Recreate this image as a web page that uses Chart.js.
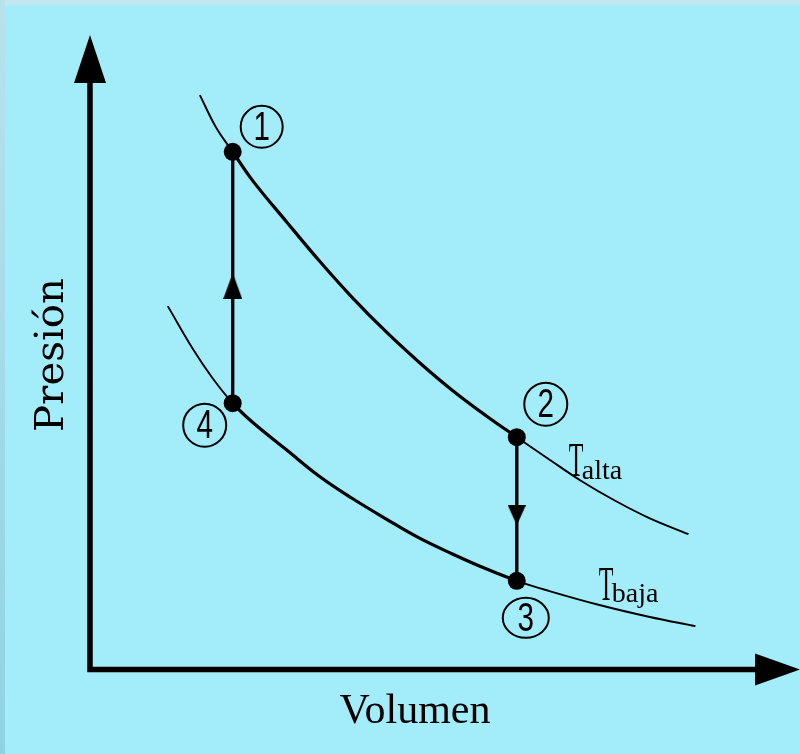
<!DOCTYPE html>
<html>
<head>
<meta charset="utf-8">
<script src="https://cdn.jsdelivr.net/npm/chart.js@4/dist/chart.umd.min.js"></script>
<style>
  html, body { margin: 0; padding: 0; background: #a3ecfa; }
  #c { display: block; }
</style>
</head>
<body>
<canvas id="c" width="800" height="754"></canvas>
<script>
// ---- Data (arbitrary units) ----
const upperV = [1.56, 1.79, 2.03, 2.31, 2.80, 3.27, 3.74, 4.23, 4.70, 5.17, 5.66, 6.10, 6.56, 7.03, 7.51, 7.99, 8.56];
const upperP = [9.11, 8.60, 8.21, 7.76, 7.10, 6.48, 5.90, 5.35, 4.87, 4.43, 4.02, 3.68, 3.33, 2.98, 2.67, 2.40, 2.14];
const lowerV = [1.10, 1.46, 1.74, 2.03, 2.31, 2.80, 3.27, 3.74, 4.23, 4.70, 5.17, 5.66, 6.10, 6.56, 7.27, 7.99, 8.66];
const lowerP = [5.76, 5.08, 4.62, 4.22, 3.92, 3.48, 3.06, 2.71, 2.38, 2.08, 1.83, 1.59, 1.40, 1.24, 1.02, 0.83, 0.68];
const cycleV = [2.03, 6.10, 6.10, 2.03];
const cycleP = [8.21, 3.68, 1.40, 4.22];
const cycleLabels = ['1', '2', '3', '4'];
const arrowV = [2.03, 6.10];
const arrowP = [6.08, 2.44];
const arrowDir = ['up', 'down'];
const curveNames = ['alta', 'baja'];
const xTitle = 'Volumen';
const yTitle = 'Presión';

const toXY = (xs, ys) => xs.map((x, i) => ({ x: x, y: ys[i] }));
const idxOf = (arr, v) => arr.indexOf(v);

// thick part of each isotherm lies between the cycle points
const upLo = idxOf(upperV, cycleV[0]), upHi = idxOf(upperV, cycleV[1]);
const loLo = idxOf(lowerV, cycleV[3]), loHi = idxOf(lowerV, cycleV[2]);

function arrowImage(dir, w, h) {
  const cv = document.createElement('canvas');
  cv.width = w; cv.height = h;
  const g = cv.getContext('2d');
  g.fillStyle = '#000';
  g.beginPath();
  if (dir === 'up') { g.moveTo(w / 2, 0); g.lineTo(w, h); g.lineTo(0, h); }
  else { g.moveTo(0, 0); g.lineTo(w, 0); g.lineTo(w / 2, h); }
  g.closePath(); g.fill();
  return cv;
}
const arrowImgs = arrowDir.map(d => d === 'up' ? arrowImage('up', 19, 26) : arrowImage('down', 18, 20));

const decor = {
  id: 'decor',
  beforeDraw(chart) {
    const ctx = chart.ctx;
    ctx.save();
    ctx.fillStyle = '#a3ecfa';
    ctx.fillRect(0, 0, 800, 754);
    ctx.fillStyle = '#c3e7ef';
    ctx.fillRect(0, 0, 800, 5);
    const lg = ctx.createLinearGradient(0, 0, 0, 754);
    lg.addColorStop(0, '#b8e2ec');
    lg.addColorStop(1, '#8fd3e2');
    ctx.fillStyle = lg;
    ctx.fillRect(0, 0, 5, 754);
    ctx.restore();
  },
  beforeDatasetsDraw(chart) {
    const ctx = chart.ctx;
    const a = chart.chartArea;
    const x0 = a.left - 1, y0 = a.bottom + 0.5;
    ctx.save();
    ctx.strokeStyle = '#000';
    ctx.fillStyle = '#000';
    ctx.lineWidth = 5.5;
    ctx.lineCap = 'square';
    ctx.beginPath();
    ctx.moveTo(x0, y0); ctx.lineTo(x0, 80);
    ctx.moveTo(x0, y0); ctx.lineTo(760, y0);
    ctx.stroke();
    // arrowheads
    ctx.beginPath();
    ctx.moveTo(x0, 35); ctx.lineTo(x0 + 16, 83); ctx.lineTo(x0 - 16, 83); ctx.closePath();
    ctx.fill();
    ctx.beginPath();
    ctx.moveTo(800, y0); ctx.lineTo(755, y0 - 16); ctx.lineTo(755, y0 + 16); ctx.closePath();
    ctx.fill();
    ctx.restore();
  },
  afterDatasetsDraw(chart) {
    const ctx = chart.ctx;
    const xs = chart.scales.x, ys = chart.scales.y;
    ctx.save();
    ctx.fillStyle = '#000';
    ctx.strokeStyle = '#000';
    // circled numbers
    const dx = [29, 29, 9, -28], dy = [-25, -33, 37, 22];
    const rx = [21, 21.5, 23, 21.5], ry = [21, 21.5, 20, 21.5];
    cycleLabels.forEach((lab, i) => {
      const px = xs.getPixelForValue(cycleV[i]) + dx[i];
      const py = ys.getPixelForValue(cycleP[i]) + dy[i];
      ctx.lineWidth = 2;
      ctx.beginPath();
      ctx.ellipse(px, py, rx[i], ry[i], 0, 0, Math.PI * 2);
      ctx.stroke();
      ctx.save();
      ctx.translate(px, py);
      ctx.scale(0.78, 1.05);
      ctx.font = '38px "Liberation Sans"';
      ctx.textAlign = 'center';
      ctx.textBaseline = 'middle';
      ctx.fillText(lab, 0, 2);
      ctx.restore();
    });
    // T labels
    const tAnchor = [[cycleV[1], cycleP[1], 52, 39], [cycleV[2], cycleP[2], 82, 19]];
    curveNames.forEach((nm, i) => {
      const bx = xs.getPixelForValue(tAnchor[i][0]) + tAnchor[i][2];
      const by = ys.getPixelForValue(tAnchor[i][1]) + tAnchor[i][3];
      ctx.save();
      ctx.translate(bx, by);
      ctx.scale(0.5, 1);
      ctx.font = '48px "Liberation Serif"';
      ctx.textAlign = 'left';
      ctx.textBaseline = 'alphabetic';
      ctx.fillText('T', 0, 0);
      ctx.restore();
      ctx.font = '28px "Liberation Serif"';
      ctx.textAlign = 'left';
      ctx.fillText(nm, bx + 13, by + (i === 0 ? 3 : 2));
    });
    // axis titles
    ctx.font = '42px "Liberation Serif"';
    ctx.textAlign = 'center';
    ctx.textBaseline = 'alphabetic';
    ctx.fillText(xTitle, 415, 723);
    ctx.save();
    ctx.translate(63, 355);
    ctx.rotate(-Math.PI / 2);
    ctx.font = '40px "DejaVu Serif"';
    const w = ctx.measureText(yTitle).width;
    ctx.scale(154 / w, 1);
    ctx.fillText(yTitle, 0, 0);
    ctx.restore();
    ctx.restore();
  }
};

const curveStyle = (lo, hi) => ({
  borderWidth: c => (c.p0DataIndex >= lo && c.p1DataIndex <= hi) ? 3.2 : 1.9
});

new Chart(document.getElementById('c'), {
  type: 'scatter',
  data: {
    datasets: [
      { label: 'estados', data: toXY(cycleV, cycleP), pointRadius: 9, pointBackgroundColor: '#000', pointBorderWidth: 0, showLine: false },
      { label: 'flechas', data: toXY(arrowV, arrowP), pointStyle: arrowImgs, pointRadius: 10, showLine: false },
      { label: '4-1', data: [{ x: cycleV[3], y: cycleP[3] }, { x: cycleV[0], y: cycleP[0] }], showLine: true, borderColor: '#000', borderWidth: 3.4, pointRadius: 0 },
      { label: '2-3', data: [{ x: cycleV[1], y: cycleP[1] }, { x: cycleV[2], y: cycleP[2] }], showLine: true, borderColor: '#000', borderWidth: 3.4, pointRadius: 0 },
      { label: 'T alta', data: toXY(upperV, upperP), showLine: true, borderColor: '#000', borderWidth: 1.9, pointRadius: 0, tension: 0.4, segment: curveStyle(upLo, upHi) },
      { label: 'T baja', data: toXY(lowerV, lowerP), showLine: true, borderColor: '#000', borderWidth: 1.9, pointRadius: 0, tension: 0.4, segment: curveStyle(loLo, loHi) }
    ]
  },
  options: {
    responsive: false,
    animation: false,
    devicePixelRatio: 1,
    layout: { padding: { left: 91, right: 9, top: 39, bottom: 85 } },
    scales: {
      x: { type: 'linear', min: 0, max: 10, display: false },
      y: { type: 'linear', min: 0, max: 10, display: false }
    },
    plugins: { legend: { display: false }, tooltip: { enabled: false } }
  },
  plugins: [decor]
});
</script>
</body>
</html>
